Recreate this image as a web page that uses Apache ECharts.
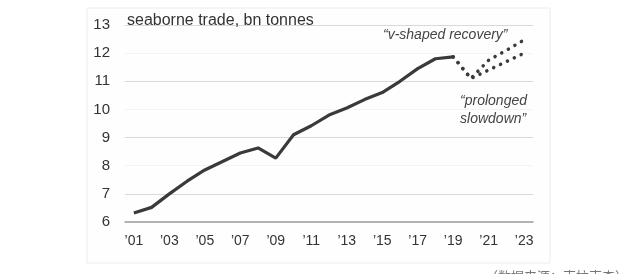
<!DOCTYPE html>
<html>
<head>
<meta charset="utf-8">
<script src="https://cdn.jsdelivr.net/npm/echarts@6/dist/echarts.min.js"></script>
<style>
  html, body { margin: 0; padding: 0; background: #fff; }
  #chart { width: 634px; height: 274px; }
</style>
</head>
<body>
<div id="chart"></div>
<script>
// years 2001..2023
var years = ['2001','2002','2003','2004','2005','2006','2007','2008','2009','2010','2011','2012',
             '2013','2014','2015','2016','2017','2018','2019','2020','2021','2022','2023'];
// historic seaborne trade, bn tonnes
var trade = [6.32, 6.52, 7.0, 7.45, 7.85, 8.15, 8.45, 8.63, 8.27, 9.1, 9.42, 9.8,
             10.05, 10.35, 10.6, 11.0, 11.45, 11.8, 11.87, null, null, null, null];
// scenarios
var vShaped = [null, null, null, null, null, null, null, null, null, null, null, null,
               null, null, null, null, null, null, 11.87, 11.1, 11.75, 12.1, 12.47];
var slowdown = [null, null, null, null, null, null, null, null, null, null, null, null,
                null, null, null, null, null, null, 11.87, 11.1, 11.4, 11.7, 12.0];

var chart = echarts.init(document.getElementById('chart'));

var dotStyle = { color: '#3a3a3a', width: 3.5, type: [0.1, 7.5], cap: 'round' };

chart.setOption({
  animation: false,
  textStyle: { fontFamily: 'Liberation Sans, Arial, sans-serif' },
  title: {
    text: 'seaborne trade, bn tonnes',
    left: 122, top: 8,
    textStyle: { fontSize: 16, fontWeight: 'normal', color: '#333' }
  },
  grid: { left: 125, right: 101, top: 25, bottom: 52 },
  graphic: [
    {
      type: 'rect', z: -10, silent: true,
      shape: { x: 87, y: 8, width: 463, height: 255 },
      style: { fill: '#fefefe', stroke: '#ececec', lineWidth: 1 }
    },
    {
      type: 'text', left: 383, top: 28,
      style: { text: '“v-shaped recovery”', font: 'italic 14px Liberation Sans', fill: '#444' }
    },
    {
      type: 'text', right: 107, top: 92,
      style: { text: '“prolonged\nslowdown”', font: 'italic 14px Liberation Sans', fill: '#444',
               lineHeight: 18, align: 'right' }
    },
    {
      type: 'text', left: 485, top: 270,
      style: { text: '（数据来源：克拉克森）', font: '13px Noto Sans CJK SC', fill: '#777' }
    }
  ],
  xAxis: {
    type: 'category',
    data: years,
    boundaryGap: true,
    axisLine: { lineStyle: { color: '#9a9a9a', width: 1.5 } },
    axisTick: { show: false },
    axisLabel: {
      interval: 1, margin: 12, fontSize: 14, color: '#333',
      formatter: function (v) { return '\u2019' + v.slice(2); }
    }
  },
  yAxis: {
    type: 'value',
    min: 6, max: 13, interval: 1,
    axisLine: { show: false },
    axisTick: { show: false },
    axisLabel: { fontSize: 15, color: '#333', margin: 15 },
    splitLine: { lineStyle: { color: ['#f4f4f4', '#d9d9d9'], width: 1 } }
  },
  series: [
    {
      type: 'line', data: trade, symbol: 'none', connectNulls: false,
      lineStyle: { color: '#3a3a3a', width: 3.2 }
    },
    {
      type: 'line', data: vShaped, symbol: 'none',
      lineStyle: dotStyle
    },
    {
      type: 'line', data: slowdown, symbol: 'none',
      lineStyle: dotStyle
    }
  ]
});
</script>
</body>
</html>
